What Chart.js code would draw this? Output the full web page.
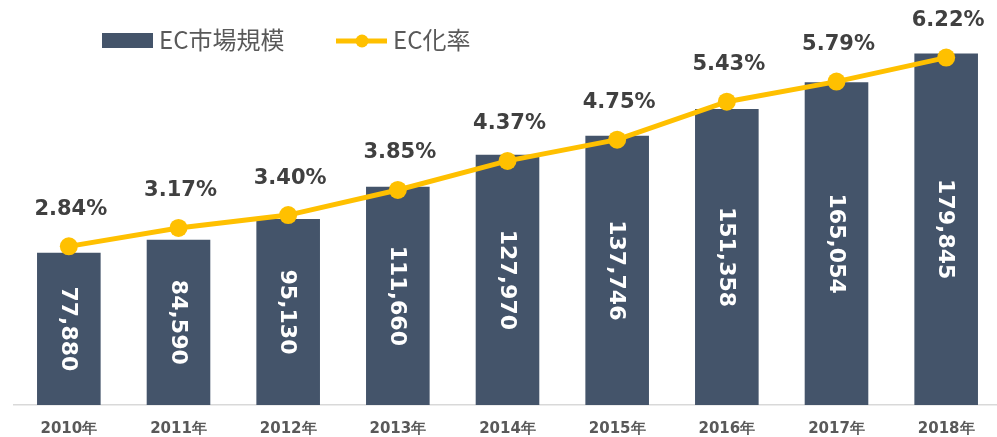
<!DOCTYPE html>
<html>
<head>
<meta charset="utf-8">
<script src="https://cdn.jsdelivr.net/npm/chart.js@4/dist/chart.umd.min.js"></script>
<style>
  body { margin: 0; overflow: hidden; background: #fff; }
  #wrap { width: 1010px; height: 437px; }
</style>
</head>
<body>
<div id="wrap"><canvas id="miGrafico"></canvas></div>
<script>
// datos
const years = ['2010年', '2011年', '2012年', '2013年', '2014年', '2015年', '2016年', '2017年', '2018年'];
const ecSize = [77880, 84590, 95130, 111660, 127970, 137746, 151358, 165054, 179845];
const ecRate = [2.84, 3.17, 3.40, 3.85, 4.37, 4.75, 5.43, 5.79, 6.22];
const seriesNames = ['EC市場規模', 'EC化率'];

const barColor = '#44546A';
const lineColor = '#FFC000';

// etiquetas sobre barras y puntos + leyenda
const labelsPlugin = {
  id: 'labels',
  afterDatasetsDraw(chart) {
    const c = chart.ctx;
    c.save();

    // barras (dataset 1): texto vertical blanco
    chart.getDatasetMeta(1).data.forEach(function (bar, i) {
      const mid = (bar.y + bar.base) / 2;
      c.save();
      c.translate(bar.x, mid);
      c.rotate(Math.PI / 2);
      c.fillStyle = '#ffffff';
      c.font = 'bold 22px "DejaVu Sans"';
      c.textAlign = 'center';
      c.textBaseline = 'middle';
      c.fillText(ecSize[i].toLocaleString('en-US'), 0, 1);
      c.restore();
    });

    // puntos (dataset 0): porcentaje
    chart.getDatasetMeta(0).data.forEach(function (pt, i) {
      c.fillStyle = '#404040';
      c.font = 'bold 21px "DejaVu Sans"';
      c.textAlign = 'center';
      c.textBaseline = 'middle';
      c.fillText(ecRate[i].toFixed(2) + '%', pt.x + 2, pt.y - 37);
    });

    // leyenda
    c.fillStyle = barColor;
    c.fillRect(102, 33, 51, 15);
    c.fillStyle = '#595959';
    c.font = '24px "Noto Sans CJK JP"';
    c.textAlign = 'left';
    c.textBaseline = 'middle';
    c.fillText(seriesNames[0], 159, 40);

    c.strokeStyle = lineColor;
    c.lineWidth = 5;
    c.beginPath();
    c.moveTo(336, 41);
    c.lineTo(387, 41);
    c.stroke();
    c.fillStyle = lineColor;
    c.beginPath();
    c.arc(362, 41, 6.5, 0, Math.PI * 2);
    c.fill();
    c.fillStyle = '#595959';
    c.fillText(seriesNames[1], 393, 40);

    c.restore();
  }
};

const ctx = document.getElementById('miGrafico');

new Chart(ctx, {
  data: {
    labels: years,
    datasets: [
      {
        type: 'line',
        label: seriesNames[1],
        data: ecRate,
        yAxisID: 'y2',
        borderColor: lineColor,
        backgroundColor: lineColor,
        borderWidth: 5,
        pointRadius: 9,
        pointHoverRadius: 9,
        pointBorderWidth: 0,
        tension: 0,
        order: 0
      },
      {
        type: 'bar',
        label: seriesNames[0],
        data: ecSize,
        yAxisID: 'y',
        backgroundColor: barColor,
        categoryPercentage: 1,
        barPercentage: 0.58,
        order: 1
      }
    ]
  },
  options: {
    responsive: true,
    maintainAspectRatio: false,
    animation: false,
    layout: { padding: { left: 14, top: 14, right: 0, bottom: 0 } },
    plugins: {
      legend: { display: false },
      tooltip: { enabled: false }
    },
    scales: {
      x: {
        afterFit: function (scale) { scale.height = 32; },
        grid: { display: false, drawTicks: false },
        border: { display: true, color: '#d9d9d9', width: 1.5 },
        ticks: {
          color: '#595959',
          font: { family: '"DejaVu Sans"', weight: 'bold', size: 15 },
          padding: 15
        }
      },
      y: { display: false, min: 0, max: 200000 },
      y2: { display: false, min: 0, max: 7 }
    }
  },
  plugins: [labelsPlugin]
});
</script>
</body>
</html>
